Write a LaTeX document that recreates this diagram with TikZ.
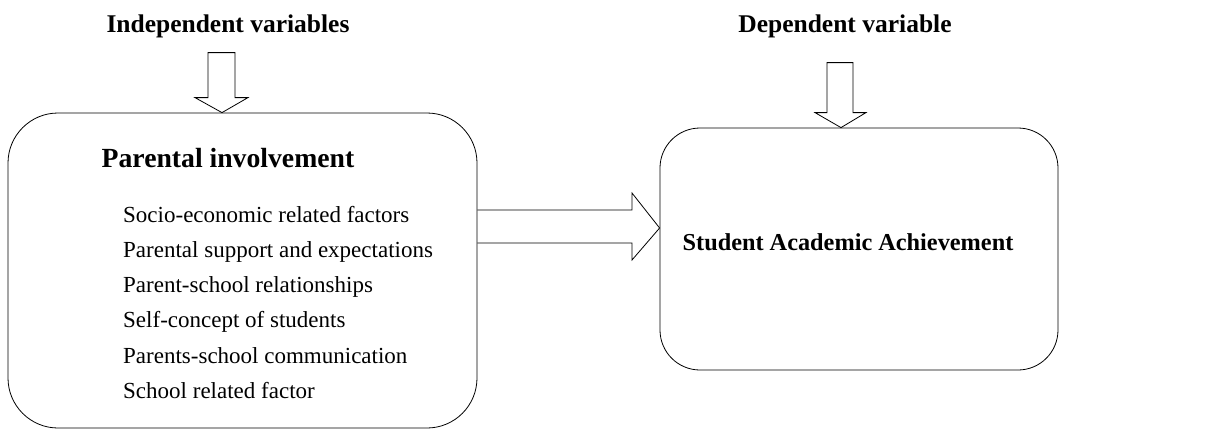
\documentclass[tikz,border=0pt]{standalone}
\usepackage{fontspec}
\setmainfont{Liberation Serif}
\usetikzlibrary{positioning,calc}

\begin{document}
\begin{tikzpicture}[x=1pt, y=-1pt,
    box/.style={draw, line width=0.8pt, inner sep=0pt},
    bigarrow/.style={draw, line width=0.8pt, line join=miter},
    item/.style={anchor=base west, inner sep=0pt, font=\fontsize{23}{28}\selectfont}]
    \useasboundingbox (0,0) rectangle (1227,429);
    \node[box, rounded corners=50pt, minimum width=469pt, minimum height=315pt] (pi) at (242.5,270.5) {};
    \node[box, rounded corners=40pt, minimum width=398pt, minimum height=242pt] (sa) at (859,249) {};
    \node[anchor=base, inner sep=0pt, font=\fontsize{25.5}{30}\selectfont\bfseries] (iv) at (228,32) {Independent variables};
    \node[anchor=base, inner sep=0pt, font=\fontsize{25.5}{30}\selectfont\bfseries] (dv) at (845,32) {Dependent variable};
    \node[anchor=base, inner sep=0pt, font=\fontsize{27.7}{32}\selectfont\bfseries] (pih) at (228,167) {Parental involvement};
    \node[anchor=base, inner sep=0pt, font=\fontsize{24.3}{30}\selectfont\bfseries] (sah) at (848,250) {Student Academic Achievement};
    \foreach \t [count=\i from 0] in {Socio-economic related factors, Parental support and expectations,
        Parent-school relationships, Self-concept of students, Parents-school communication, School related factor}
        \node[item] (f\i) at (123,222+35.3*\i) {\t};
    % block arrows
    \draw[bigarrow] (pi.north -| 222,0) -- ++(26,-15) -- ++(-13,0) -- ++(0,-45) -- ++(-27,0) -- ++(0,45) -- ++(-13,0) -- cycle;
    \draw[bigarrow] (sa.north -| 841,0) -- ++(25,-15) -- ++(-13,0) -- ++(0,-50) -- ++(-26,0) -- ++(0,50) -- ++(-12,0) -- cycle;
    \draw[bigarrow] (pi.east |- 0,210) -- (632,210) -- (632,193) -- (sa.west |- 0,228) -- (632,260) -- (632,243) -- (pi.east |- 0,243);
\end{tikzpicture}
\end{document}
